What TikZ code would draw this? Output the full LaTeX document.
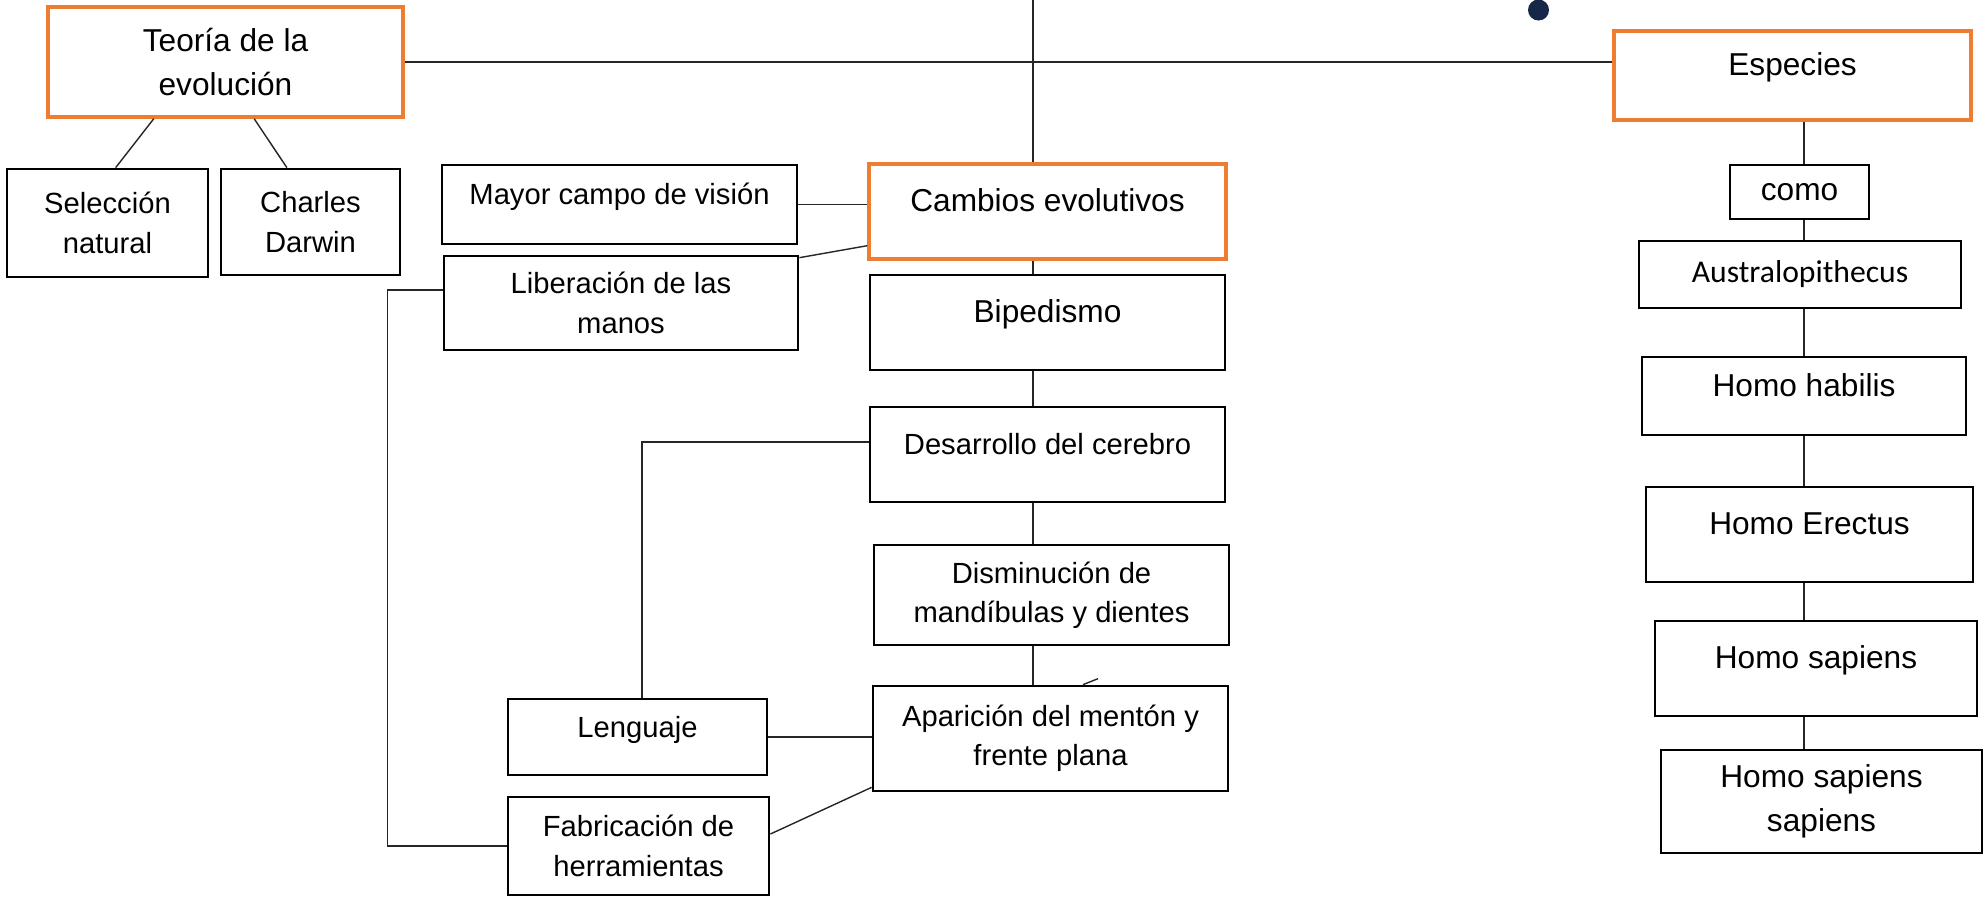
\documentclass[tikz,border=0pt]{standalone}
\usepackage{fontspec}
\setmainfont{Liberation Sans}
\newfontfamily\calibri{Carlito}
\usetikzlibrary{calc}

\newcommand{\grande}{\fontsize{9pt}{12.6pt}\selectfont}
\newcommand{\chica}{\fontsize{8.3pt}{11.2pt}\selectfont}
\definecolor{naranja}{HTML}{ED7D31}
\definecolor{marino}{HTML}{172747}

\begin{document}
\begin{tikzpicture}[x=0.01cm, y=-0.01cm,
    caja/.style={rectangle, draw, line width=0.75pt, inner sep=0pt, align=center, font=\chica},
    tema/.style={caja, draw=naranja, line width=0.95pt, font=\grande},
    arriba/.style={text height=0.25cm, text depth=0.25cm},
    linea/.style={line width=0.4pt, draw=black!85}]
    \useasboundingbox (0,0) rectangle (1986,896);

    % izquierda
    \node (teoria) [tema, minimum width=3.55cm, minimum height=1.10cm] at (225.5,62) {Teoría de la\\evolución};
    \node (seleccion) [caja, minimum width=2.01cm, minimum height=1.08cm] at (107.5,223) {Selección\\natural};
    \node (darwin) [caja, minimum width=1.79cm, minimum height=1.06cm] at (310.5,222) {Charles\\Darwin};

    % centro
    \node (cambios) [tema, arriba, minimum width=3.57cm, minimum height=0.95cm] at (1047.5,211.5) {Cambios evolutivos};
    \node (bipedismo) [caja, arriba, font=\grande, minimum width=3.55cm, minimum height=0.95cm] at (1047.5,322.5) {Bipedismo};
    \node (desarrollo) [caja, arriba, minimum width=3.55cm, minimum height=0.95cm] at (1047.5,454.5) {Desarrollo del cerebro};
    \node (disminucion) [caja, minimum width=3.55cm, minimum height=1.00cm] at (1051.5,595) {Disminución de\\mandíbulas y dientes};
    \node (aparicion) [caja, minimum width=3.55cm, minimum height=1.05cm] at (1050.5,738.5) {Aparición del mentón y\\frente plana};

    \node (mayor) [caja, arriba, minimum width=3.55cm, minimum height=0.79cm] at (619.5,204.5) {Mayor campo de visión};
    \node (liberacion) [caja, minimum width=3.54cm, minimum height=0.94cm] at (621,303) {Liberación de las\\manos};
    \node (lenguaje) [caja, arriba, minimum width=2.59cm, minimum height=0.76cm] at (637.5,737) {Lenguaje};
    \node (fabricacion) [caja, minimum width=2.61cm, minimum height=0.98cm] at (638.5,846) {Fabricación de\\herramientas};

    % derecha
    \node (punto) [circle, fill=marino, inner sep=0pt, minimum size=0.21cm] at (1538.5,10) {};
    \node (especies) [tema, arriba, minimum width=3.57cm, minimum height=0.89cm] at (1792.5,75.5) {Especies};
    \node (como) [caja, font=\grande, minimum width=1.39cm, minimum height=0.54cm] at (1799.5,192) {como};
    \node (australo) [caja, font=\grande\calibri, minimum width=3.22cm, minimum height=0.67cm] at (1800,274.5) {Australopithecus};
    \node (habilis) [caja, arriba, font=\grande, minimum width=3.24cm, minimum height=0.78cm] at (1804,396) {Homo habilis};
    \node (erectus) [caja, arriba, font=\grande, minimum width=3.27cm, minimum height=0.95cm] at (1809.5,534.5) {Homo Erectus};
    \node (sapiens) [caja, arriba, font=\grande, minimum width=3.22cm, minimum height=0.95cm] at (1816,668.5) {Homo sapiens};
    \node (sapsap) [caja, font=\grande, minimum width=3.21cm, minimum height=1.03cm] at (1821.5,801.5) {Homo sapiens\\sapiens};

    \coordinate (eje) at (1033,0);
    \coordinate (ejeder) at (1804,0);

    \draw[linea] (teoria.east) -- (teoria.east -| especies.west);
    \draw[linea] ($(teoria.south west)!0.3!(teoria.south east)$) -- ($(seleccion.north west)!0.54!(seleccion.north east)$);
    \draw[linea] ($(teoria.south west)!0.58!(teoria.south east)$) -- ($(darwin.north west)!0.37!(darwin.north east)$);

    \draw[linea] (eje) -- (eje |- cambios.north);
    \foreach \a/\b in {cambios/bipedismo, bipedismo/desarrollo, desarrollo/disminucion, disminucion/aparicion}
        \draw[linea] (eje |- \a.south) -- (eje |- \b.north);
    \foreach \a/\b in {especies/como, como/australo, australo/habilis, habilis/erectus, erectus/sapiens, sapiens/sapsap}
        \draw[linea] (ejeder |- \a.south) -- (ejeder |- \b.north);

    \draw[linea] (mayor.east) -- (mayor.east -| cambios.west);
    \draw[linea] ([yshift=-0.03cm]liberacion.north east) -- ([yshift=0.15cm]cambios.south west);
    \draw[linea] ([yshift=0.13cm]liberacion.west) -- ++(-55,0) |- (fabricacion.west);
    \draw[linea] ([yshift=0.125cm]desarrollo.west) -| ([xshift=0.045cm]lenguaje.north);
    \draw[linea] (lenguaje.east) -- (lenguaje.east -| aparicion.west);
    \draw[linea] ([yshift=0.12cm]fabricacion.east) -- ([yshift=0.05cm]aparicion.south west);
    \draw[linea] ([xshift=0.325cm]aparicion.north) -- ++(15,-6);

\end{tikzpicture}
\end{document}
